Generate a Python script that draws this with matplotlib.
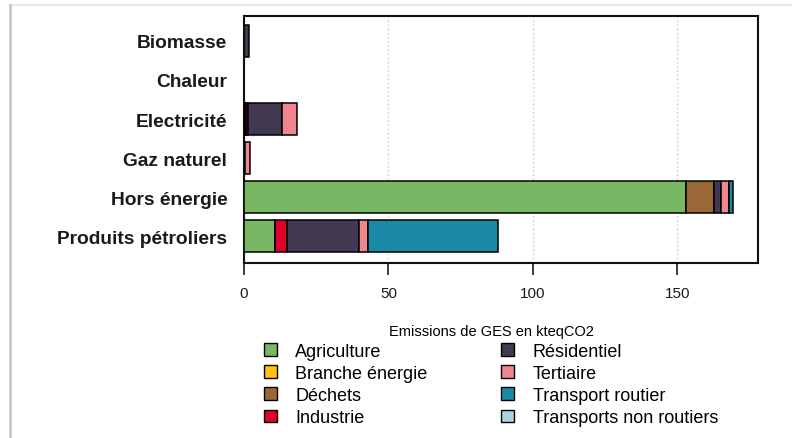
import numpy as np
import matplotlib
matplotlib.use('Agg')
import matplotlib.pyplot as plt
from matplotlib.patches import Patch
from matplotlib.lines import Line2D

plt.rcParams['font.family'] = ['Liberation Sans', 'DejaVu Sans']

categories = ['Biomasse', 'Chaleur', 'Electricité', 'Gaz naturel',
              'Hors énergie', 'Produits pétroliers']

sectors = ['Agriculture', 'Branche énergie', 'Déchets', 'Industrie',
           'Résidentiel', 'Tertiaire', 'Transport routier',
           'Transports non routiers']

agriculture = [0, 0, 0.4, 0, 153.0, 10.7]
branche_energie = [0, 0, 0.4, 0, 0, 0]
dechets = [0, 0, 0, 0, 9.9, 0]
industrie = [0, 0, 0.6, 0, 0, 4.3]
residentiel = [1.8, 0, 11.7, 0.4, 2.4, 24.9]
tertiaire = [0, 0, 5.3, 1.6, 2.6, 3.1]
transport_routier = [0, 0, 0, 0, 1.4, 45.0]
transports_non_routiers = [0, 0, 0, 0, 0, 0]

values = [agriculture, branche_energie, dechets, industrie, residentiel,
          tertiaire, transport_routier, transports_non_routiers]

colors = ['#78b764', '#ffc20e', '#9a6836', '#e2002a', '#433852',
          '#ef8690', '#1a89a6', '#a9d1df']

fig = plt.figure(figsize=(7.92, 4.39), dpi=100)
ax = fig.add_axes([244 / 792, 1 - 264 / 439, (758 - 244) / 792, (264 - 17) / 439])

y = np.arange(len(categories))
left = np.zeros(len(categories))
for vals, col in zip(values, colors):
    vals = np.array(vals, dtype=float)
    keep = vals > 0
    if keep.any():
        ax.barh(y[keep], vals[keep], left=left[keep], height=0.833,
                color=col, edgecolor='black', linewidth=1.1, zorder=3)
    left += vals

ax.set_xlim(0, 178)
ax.set_ylim(5.69, -0.64)
ax.set_yticks(y)
ax.set_yticklabels(categories, fontsize=13.75, fontweight='bold', color='#1a1a1a')
ax.tick_params(axis='y', length=0, pad=12)
ax.set_xticks([0, 50, 100, 150])
ax.tick_params(axis='x', length=8.6, width=1.2, direction='out', pad=8,
               labelsize=11, colors='#1a1a1a')
ax.xaxis.grid(True, linestyle=(0, (1, 2)), color='#c8c8c8', linewidth=1.0, zorder=0)
ax.set_axisbelow(True)
for s in ax.spines.values():
    s.set_linewidth(1.5)
    s.set_color('#111111')

handles = [Patch(facecolor=c, edgecolor='black', linewidth=1.0) for c in colors]
leg = fig.legend(handles, sectors, ncol=2, loc='upper center',
                 bbox_to_anchor=(491 / 792, 1 - 316 / 439), frameon=False,
                 fontsize=13, title='Emissions de GES en kteqCO2',
                 title_fontsize=10.5, handlelength=0.72, handleheight=0.72,
                 handletextpad=1.0, columnspacing=4.1, labelspacing=0.28,
                 borderpad=0)

# light border of the original export
fig.add_artist(Line2D([10 / 792, 1], [1 - 6 / 439, 1 - 6 / 439],
                      color='#e2e2e2', linewidth=1.2))
fig.add_artist(Line2D([9.5 / 792, 9.5 / 792], [0, 1 - 6 / 439],
                      color='#c4c4c4', linewidth=1.8))

fig.savefig('out.png', dpi=100)
